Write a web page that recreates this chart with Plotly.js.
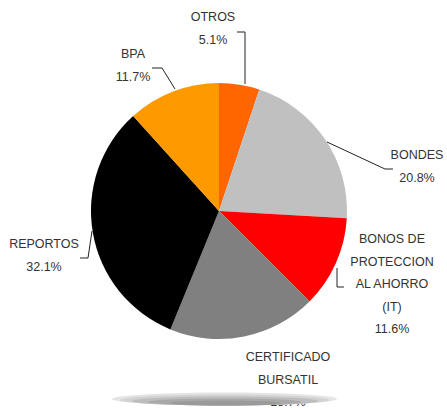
<!DOCTYPE html>
<html>
<head>
<meta charset="utf-8">
<script src="https://cdn.plot.ly/plotly-3.0.1.min.js"></script>
<style>html,body{margin:0;padding:0;background:#fff;}#chart{width:447px;height:408px;}</style>
</head>
<body>
<div id="chart"></div>
<script>
// ---- data ----
var categories = ['OTROS', 'BONDES', 'BONOS DE|PROTECCION|AL AHORRO|(IT)', 'CERTIFICADO|BURSATIL', 'REPORTOS', 'BPA'];
var values = [5.1, 20.8, 11.6, 18.7, 32.1, 11.7];
var colors = ['#FF6600', '#C0C0C0', '#FF0000', '#808080', '#000000', '#FF9900'];

// ---- layout helpers (label anchor positions in pixels: center x, first-line y) ----
var labelAnchors = [[213, 18], [417, 156], [392, 240], [288, 358], [44, 245], [133, 55]];
var lineGap = 22.5;

var tx = [], ty = [], tt = [];
categories.forEach(function (c, i) {
  var lines = c.split('|').concat([values[i].toFixed(1) + '%']);
  lines.forEach(function (ln, j) {
    tx.push(labelAnchors[i][0]);
    ty.push(labelAnchors[i][1] + j * lineGap);
    tt.push(ln);
  });
});

var pieTrace = {
  type: 'pie',
  values: values,
  labels: categories.map(function (c) { return c.replace(/\|/g, ' '); }),
  marker: { colors: colors, line: { width: 0 } },
  sort: false,
  direction: 'clockwise',
  rotation: 0,
  textinfo: 'none',
  hoverinfo: 'label+percent',
  showlegend: false,
  domain: { x: [(219 - 128) / 447, (219 + 128) / 447], y: [1 - 339 / 408, 1 - 83 / 408] }
};

var textTrace = {
  type: 'scatter',
  mode: 'text',
  x: tx, y: ty, text: tt,
  textposition: 'middle center',
  textfont: { family: 'Liberation Sans, Arial, sans-serif', size: 12.5, color: '#333333' },
  cliponaxis: false,
  hoverinfo: 'skip',
  showlegend: false
};

var lineStyle = { color: '#222222', width: 1 };
var shapes = [
  { type: 'path', xref: 'x', yref: 'y', path: 'M237,32 L245,32 L245,84', line: lineStyle },
  { type: 'path', xref: 'x', yref: 'y', path: 'M152,68 L162,68 L175,89', line: lineStyle },
  { type: 'path', xref: 'x', yref: 'y', path: 'M327,142 L385,169 L393,169', line: lineStyle },
  { type: 'path', xref: 'x', yref: 'y', path: 'M337,268 L337,287 L344,287', line: lineStyle },
  { type: 'path', xref: 'x', yref: 'y', path: 'M80,258 L88,258 L92,231', line: lineStyle }
];
// shadow ellipse (stacked to mimic gradient)
var ell = [
  [112, 337, 392.5, 405.5, '#e4e4e4'],
  [120, 329, 394.5, 405.5, '#d2d2d2'],
  [132, 318, 396.5, 405.5, '#bdbdbd'],
  [148, 302, 398.5, 405.5, '#a9a9a9'],
  [170, 280, 400.5, 405.5, '#9a9a9a']
];
ell.forEach(function (e) {
  shapes.push({ type: 'circle', xref: 'x', yref: 'y', x0: e[0], x1: e[1], y0: e[2], y1: e[3],
    fillcolor: e[4], line: { width: 0 }, layer: 'above' });
});

var layout = {
  width: 447, height: 408,
  margin: { l: 0, r: 0, t: 0, b: 0 },
  paper_bgcolor: '#ffffff', plot_bgcolor: 'rgba(0,0,0,0)',
  xaxis: { range: [0, 447], visible: false, fixedrange: true },
  yaxis: { range: [408, 0], visible: false, fixedrange: true },
  shapes: shapes,
  showlegend: false
};

Plotly.newPlot('chart', [textTrace, pieTrace], layout, { displayModeBar: false, staticPlot: true });
</script>
</body>
</html>
